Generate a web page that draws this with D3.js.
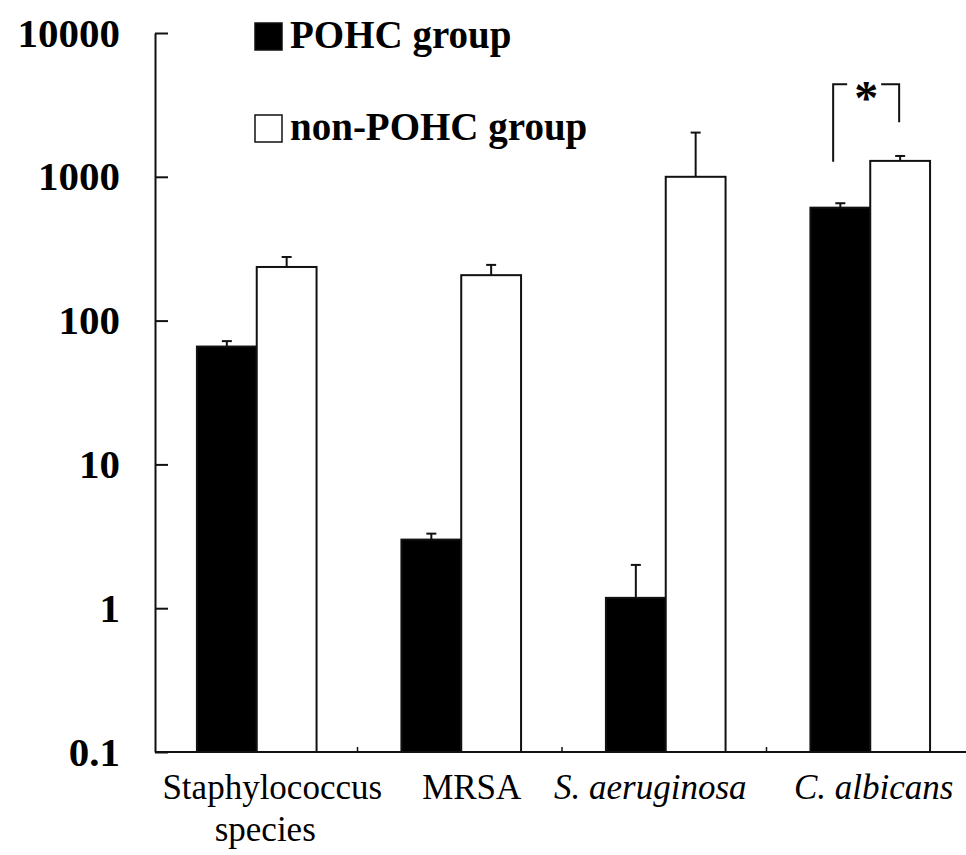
<!DOCTYPE html>
<html>
<head>
<meta charset="utf-8">
<script src="https://cdn.jsdelivr.net/npm/d3@7"></script>
<style>
  body { margin: 0; background: #fff; }
  svg text { font-family: "Liberation Serif", "Times New Roman", serif; }
</style>
</head>
<body>
<div id="chart"></div>
<script>
// Data
const categories = ["Staphylococcus species", "MRSA", "S. aeruginosa", "C. albicans"];
const italicCats = ["S. aeruginosa", "C. albicans"];
const groups = ["POHC group", "non-POHC group"];
const pohcValues = [66, 3.0, 1.18, 610];
const pohcErrors = [6, 0.3, 0.82, 45];
const nonPohcValues = [236, 207, 1000, 1290];
const nonPohcErrors = [41, 37, 1030, 106];
const yTicks = [0.1, 1, 10, 100, 1000, 10000];

const serif = "'Liberation Serif', 'Times New Roman', serif";
const width = 966;
const height = 855;
const margin = { top: 33, left: 155, bottom: 103 };
const plotBottom = height - margin.bottom;

const rows = categories.map((c, i) => ({
  cat: c,
  bars: [
    { group: groups[0], value: pohcValues[i], err: pohcErrors[i] },
    { group: groups[1], value: nonPohcValues[i], err: nonPohcErrors[i] }
  ]
}));

// Scales
let x0 = d3.scaleBand()
  .domain(categories)
  .range([margin.left, margin.left + 204.5 * 4])
  .padding(0);
let x1 = d3.scaleBand()
  .domain(groups)
  .range([x0.bandwidth() * 0.205, x0.bandwidth() * 0.79]);
let y = d3.scaleLog()
  .domain([0.1, 10000])
  .range([plotBottom, margin.top]);

let svg = d3.select("#chart")
  .append("svg")
  .attr("width", width)
  .attr("height", height)
  .attr("font-family", serif);

// Bars
let g = svg.selectAll("g.cat")
  .data(rows)
  .enter()
  .append("g")
  .attr("class", "cat")
  .attr("transform", d => `translate(${x0(d.cat)},0)`);

// Error bars first so bar outline sits on top
g.selectAll("line.err")
  .data(d => d.bars)
  .enter()
  .append("line")
  .attr("x1", d => x1(d.group) + x1.bandwidth() / 2)
  .attr("x2", d => x1(d.group) + x1.bandwidth() / 2)
  .attr("y1", d => y(d.value))
  .attr("y2", d => y(d.value + d.err))
  .attr("stroke", "#111")
  .attr("stroke-width", 2);
g.selectAll("line.cap")
  .data(d => d.bars)
  .enter()
  .append("line")
  .attr("x1", d => x1(d.group) + x1.bandwidth() / 2 - 5)
  .attr("x2", d => x1(d.group) + x1.bandwidth() / 2 + 5)
  .attr("y1", d => y(d.value + d.err))
  .attr("y2", d => y(d.value + d.err))
  .attr("stroke", "#111")
  .attr("stroke-width", 2);

g.selectAll("rect")
  .data(d => d.bars)
  .enter()
  .append("rect")
  .attr("x", d => x1(d.group))
  .attr("width", x1.bandwidth())
  .attr("y", d => y(d.value))
  .attr("height", d => plotBottom - y(d.value))
  .attr("fill", d => d.group === groups[0] ? "#000" : "#fff")
  .attr("stroke", "#111")
  .attr("stroke-width", 2);

// Y axis (ticks point inward)
let yAxis = svg.append("g")
  .attr("transform", `translate(${margin.left},0)`)
  .call(d3.axisLeft(y)
    .tickValues(yTicks)
    .tickFormat(d => String(d))
    .tickSizeInner(-13)
    .tickSizeOuter(0)
    .tickPadding(35));
yAxis.attr("font-family", serif);
yAxis.select(".domain").attr("stroke", "#111").attr("stroke-width", 2);
yAxis.selectAll(".tick line").attr("stroke", "#111").attr("stroke-width", 2);
yAxis.selectAll(".tick text")
  .attr("fill", "#000")
  .style("font-family", serif)
  .style("font-size", "41px")
  .style("font-weight", "bold");

// X axis line with small upward ticks between categories
svg.append("line")
  .attr("x1", margin.left)
  .attr("x2", width)
  .attr("y1", plotBottom)
  .attr("y2", plotBottom)
  .attr("stroke", "#111")
  .attr("stroke-width", 2);
svg.selectAll("line.sep")
  .data(categories.slice(1))
  .enter()
  .append("line")
  .attr("x1", d => x0(d) - 2)
  .attr("x2", d => x0(d) - 2)
  .attr("y1", plotBottom)
  .attr("y2", plotBottom - 5)
  .attr("stroke", "#111")
  .attr("stroke-width", 1.5);

// Category labels
const labelShift = [15, 10, -16, 3];
let labels = svg.selectAll("text.cat")
  .data(categories)
  .enter()
  .append("text")
  .attr("class", "cat")
  .attr("text-anchor", "middle")
  .attr("y", plotBottom + 47)
  .style("font-family", serif)
  .style("font-size", "35px")
  .style("font-style", d => italicCats.includes(d) ? "italic" : "normal");
labels.each(function(d, i) {
  let words = d === "Staphylococcus species" ? ["Staphylococcus", "species"] : [d];
  d3.select(this).selectAll("tspan")
    .data(words)
    .enter()
    .append("tspan")
    .attr("x", x0(d) + x0.bandwidth() / 2 + labelShift[i])
    .attr("dx", (w, j) => j === 1 ? -7 : 0)
    .attr("dy", (w, j) => j === 0 ? 0 : 42)
    .text(w => w);
});

// Legend
let legend = svg.selectAll("g.legend")
  .data(groups)
  .enter()
  .append("g")
  .attr("class", "legend")
  .attr("transform", (d, i) => `translate(255,${23 + i * 92})`);
legend.append("rect")
  .attr("width", 27)
  .attr("height", 27)
  .attr("fill", (d, i) => i === 0 ? "#000" : "#fff")
  .attr("stroke", "#111")
  .attr("stroke-width", 1.5);
legend.append("text")
  .attr("x", 35)
  .attr("y", 25)
  .style("font-family", serif)
  .style("font-size", "39px")
  .style("font-weight", "bold")
  .text(d => d);

// Significance bracket for C. albicans
let last = categories[3];
let bl = x0(last) + x1(groups[0]) + x1.bandwidth() * 0.38;
let br = x0(last) + x1(groups[1]) + x1.bandwidth() / 2 - 1;
let bTop = y(4400);
svg.append("path")
  .attr("d", `M${bl},${y(1270)}V${bTop}H${bl + 14}M${br - 18},${bTop}H${br}V${y(2400)}`)
  .attr("fill", "none")
  .attr("stroke", "#111")
  .attr("stroke-width", 2);
svg.append("text")
  .attr("x", (bl + br) / 2)
  .attr("y", bTop + 30)
  .attr("text-anchor", "middle")
  .style("font-family", serif)
  .style("font-size", "48px")
  .style("font-weight", "bold")
  .text("*");
</script>
</body>
</html>
